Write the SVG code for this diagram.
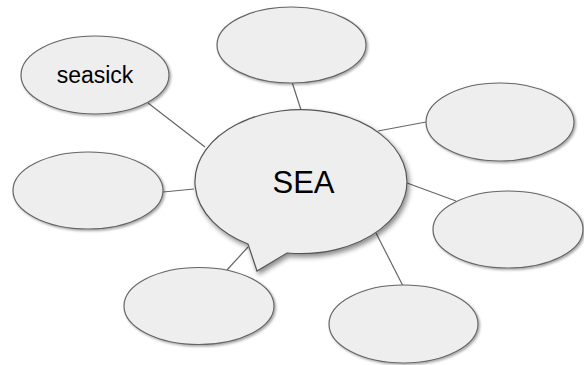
<svg xmlns="http://www.w3.org/2000/svg" width="584" height="365" viewBox="0 0 584 365">
<defs>
<filter id="sh" x="-20%" y="-20%" width="150%" height="150%">
<feDropShadow dx="1.5" dy="1.5" stdDeviation="1.2" flood-color="#000" flood-opacity="0.35"/>
</filter>
<filter id="shb" x="-20%" y="-20%" width="150%" height="150%">
<feDropShadow dx="2" dy="3" stdDeviation="2.5" flood-color="#000" flood-opacity="0.45"/>
</filter>
</defs>
<style>
.n{fill:#eeeeee;stroke:#666666;stroke-width:1.2;filter:url(#sh)}
.c{fill:#eeeeee;stroke:#555555;stroke-width:1.2;filter:url(#shb)}
.e line{stroke:#666666;stroke-width:1.2}
.t{font-family:"Liberation Sans",Arial,sans-serif;fill:#000;text-anchor:middle}
</style>
<rect width="584" height="365" fill="#ffffff"/>
<g id="connectors" class="e">
<line x1="148" y1="103" x2="205" y2="147"/>
<line x1="163" y1="192" x2="194" y2="189"/>
<line x1="292" y1="82" x2="301" y2="110"/>
<line x1="378" y1="131" x2="426" y2="122"/>
<line x1="407" y1="183" x2="456" y2="201"/>
<line x1="376" y1="233" x2="403" y2="286"/>
<line x1="248" y1="247" x2="227" y2="270"/>
</g>
<g id="seasick">
<ellipse class="n" cx="95" cy="75" rx="74" ry="39"/>
<text class="t" x="95" y="83" font-size="23">seasick</text>
</g>
<g id="top">
<ellipse class="n" cx="291.5" cy="45" rx="74.5" ry="38"/>
</g>
<g id="right-upper">
<ellipse class="n" cx="500" cy="122" rx="74" ry="39"/>
</g>
<g id="left">
<ellipse class="n" cx="88" cy="190.5" rx="75" ry="38.5"/>
</g>
<g id="right-lower">
<ellipse class="n" cx="508" cy="229.5" rx="75" ry="38.5"/>
</g>
<g id="bottom-left">
<ellipse class="n" cx="199" cy="306" rx="75" ry="38.5"/>
</g>
<g id="bottom-right">
<ellipse class="n" cx="403.5" cy="324" rx="74.5" ry="39"/>
</g>
<g id="sea">
<path class="c" d="M 248 244 L 257 271 L 287 253 A 106 72 0 1 0 248 244 Z"/>
<text class="t" x="303.5" y="193" font-size="31">SEA</text>
</g>
</svg>
